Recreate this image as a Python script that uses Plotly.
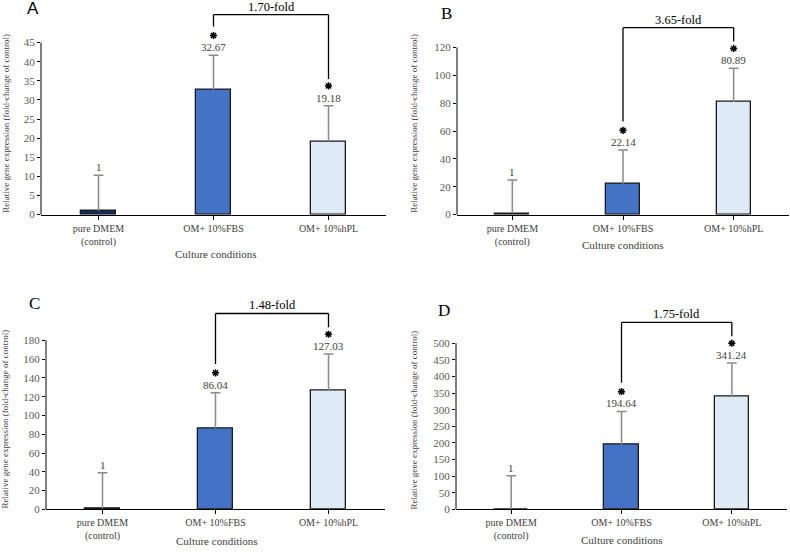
import plotly.graph_objects as go

# ---------------- data ----------------
categories = ["pure DMEM<br>(control)", "OM+ 10%FBS", "OM+ 10%hPL"]
panel_letters = ["A", "B", "C", "D"]

means_A = [1, 32.67, 19.18]
sd_A = [9.3, 9.0, 9.3]
means_B = [1, 22.14, 80.89]
sd_B = [23.8, 24.2, 24.2]
means_C = [1, 86.04, 127.03]
sd_C = [37.9, 38.2, 38.3]
means_D = [1, 194.64, 341.24]
sd_D = [100.2, 100.0, 99.3]

fold_labels = ["1.70-fold", "3.65-fold", "1.48-fold", "1.75-fold"]
y_tick_max = [45, 120, 180, 500]
y_tick_step = [5, 20, 20, 50]

all_means = [means_A, means_B, means_C, means_D]
all_sds = [sd_A, sd_B, sd_C, sd_D]

# ---------------- layout geometry (pixels) ----------------
W, H = 790, 552
geom = [
    dict(left=41, right=386, zero=217, toppx=43, letter=(33, 9), letter_font="Liberation Sans",
         xtitle=(216, 257), ytitle=(6, 125)),
    dict(left=457, right=789, zero=217, toppx=48, letter=(446, 14), letter_font="Liberation Serif",
         xtitle=(623, 248), ytitle=(414, 125)),
    dict(left=46, right=385, zero=515, toppx=344, letter=(34, 307), letter_font="Liberation Serif",
         xtitle=(217, 547), ytitle=(5, 424)),
    dict(left=456, right=787, zero=515, toppx=347, letter=(444, 314), letter_font="Liberation Serif",
         xtitle=(622, 546), ytitle=(414, 425)),
]

bar_colors = ["#132c5e", "#4472c4", "#deebf7"]
SERIF = "Liberation Serif"
ERR_COLOR = "#8a8a8a"

def px_x(p):
    return p / W

def px_y(p):
    return 1 - p / H

fig = go.Figure()
shapes = []
annotations = []

for i in range(4):
    g = geom[i]
    n = "" if i == 0 else str(i + 1)
    means, sds = all_means[i], all_sds[i]
    tmax, step = y_tick_max[i], y_tick_step[i]
    ppu = (g["zero"] - g["toppx"]) / tmax  # pixels per unit
    tops = [m + s for m, s in zip(means, sds)]
    left_b = tops[1] + 29 / ppu
    right_b = tops[2] + 27 / ppu
    bracket_top = max(tops[1], tops[2]) + 41 / ppu
    rng_top = bracket_top + 3 / ppu
    dom_top_px = g["zero"] - rng_top * ppu

    fig.add_trace(go.Bar(
        x=[0, 1, 2], y=means, width=0.31,
        marker=dict(color=bar_colors, line=dict(color="#1a1a1a", width=1.3)),
        error_y=dict(type="data", symmetric=False, array=sds, arrayminus=[0, 0, 0],
                     color=ERR_COLOR, thickness=1.5, width=0),
        xaxis="x" + n, yaxis="y" + n, showlegend=False, hoverinfo="skip",
    ))
    # error bar caps (top only)
    fig.add_trace(go.Scatter(
        x=[0, 1, 2], y=tops, mode="markers",
        marker=dict(symbol="line-ew", size=7, color=ERR_COLOR, line=dict(color=ERR_COLOR, width=1.5)),
        xaxis="x" + n, yaxis="y" + n, showlegend=False, hoverinfo="skip",
    ))
    # significance asterisks above the two treated groups
    fig.add_trace(go.Scatter(
        x=[1, 2], y=[tops[1] + 20 / ppu, tops[2] + 20 / ppu], mode="markers",
        marker=dict(symbol="asterisk-open", size=6, color="black", line=dict(color="black", width=1.5)),
        xaxis="x" + n, yaxis="y" + n, showlegend=False, hoverinfo="skip", cliponaxis=False,
    ))

    fig.update_layout(**{
        "xaxis" + n: dict(
            domain=[px_x(g["left"]), px_x(g["right"])], range=[-0.5, 2.5],
            tickmode="array", tickvals=[0, 1, 2], ticktext=categories,
            showline=True, linecolor="black", linewidth=1, ticks="outside", ticklen=4,
            tickcolor="black", tickfont=dict(family=SERIF, size=10, color="#404040"),
            showgrid=False, zeroline=False, anchor="y" + n, fixedrange=True,
        ),
        "yaxis" + n: dict(
            domain=[px_y(g["zero"]), px_y(dom_top_px)], range=[0, rng_top],
            tickmode="array", tickvals=list(range(0, tmax + 1, step)),
            ticks="outside", ticklen=3, tickcolor="black",
            tickfont=dict(family=SERIF, size=11, color="#595959"),
            showline=False, showgrid=False, zeroline=False, anchor="x" + n, fixedrange=True,
        ),
    })

    # y axis line (only up to top tick)
    shapes.append(dict(type="line", xref="paper", yref="paper",
                       x0=px_x(g["left"]), x1=px_x(g["left"]),
                       y0=px_y(g["zero"]), y1=px_y(g["toppx"]),
                       line=dict(color="black", width=1)))

    # bracket
    lc = dict(color="black", width=1.3)
    shapes.append(dict(type="line", xref="x" + n, yref="y" + n, x0=1, x1=1, y0=left_b, y1=bracket_top, line=lc))
    shapes.append(dict(type="line", xref="x" + n, yref="y" + n, x0=1, x1=2, y0=bracket_top, y1=bracket_top, line=lc))
    shapes.append(dict(type="line", xref="x" + n, yref="y" + n, x0=2, x1=2, y0=bracket_top, y1=right_b, line=lc))

    # value labels
    for j in range(3):
        txt = "1" if means[j] == 1 else f"{means[j]:.2f}"
        annotations.append(dict(x=j, y=tops[j], xref="x" + n, yref="y" + n, text=txt,
                                showarrow=False, yanchor="middle", yshift=8,
                                font=dict(family=SERIF, size=11, color="#404040")))
    annotations.append(dict(x=1.5, y=bracket_top, xref="x" + n, yref="y" + n, text=fold_labels[i],
                            showarrow=False, yanchor="middle", yshift=8,
                            font=dict(family=SERIF, size=12.5, color="black")))

    # panel letter
    annotations.append(dict(x=px_x(g["letter"][0]), y=px_y(g["letter"][1]), xref="paper", yref="paper",
                            text=panel_letters[i], showarrow=False, xanchor="center", yanchor="middle",
                            font=dict(family=g["letter_font"], size=17, color="black")))
    # axis titles
    annotations.append(dict(x=px_x(g["xtitle"][0]), y=px_y(g["xtitle"][1]), xref="paper", yref="paper",
                            text="Culture conditions", showarrow=False, xanchor="center", yanchor="middle",
                            font=dict(family=SERIF, size=11, color="#404040")))
    annotations.append(dict(x=px_x(g["ytitle"][0]), y=px_y(g["ytitle"][1]), xref="paper", yref="paper",
                            text="Relative gene expression (fold-change of control)", textangle=-90,
                            showarrow=False, xanchor="center", yanchor="middle",
                            font=dict(family=SERIF, size=9, color="#404040")))

fig.update_layout(
    width=W, height=H, margin=dict(l=0, r=0, t=0, b=0),
    paper_bgcolor="white", plot_bgcolor="white",
    shapes=shapes, annotations=annotations, bargap=0,
)

fig.write_html("out.html", config={"displayModeBar": False},
               post_script="document.body.style.margin='0';document.body.style.overflow='hidden';"
                           "document.documentElement.style.overflow='hidden';")
